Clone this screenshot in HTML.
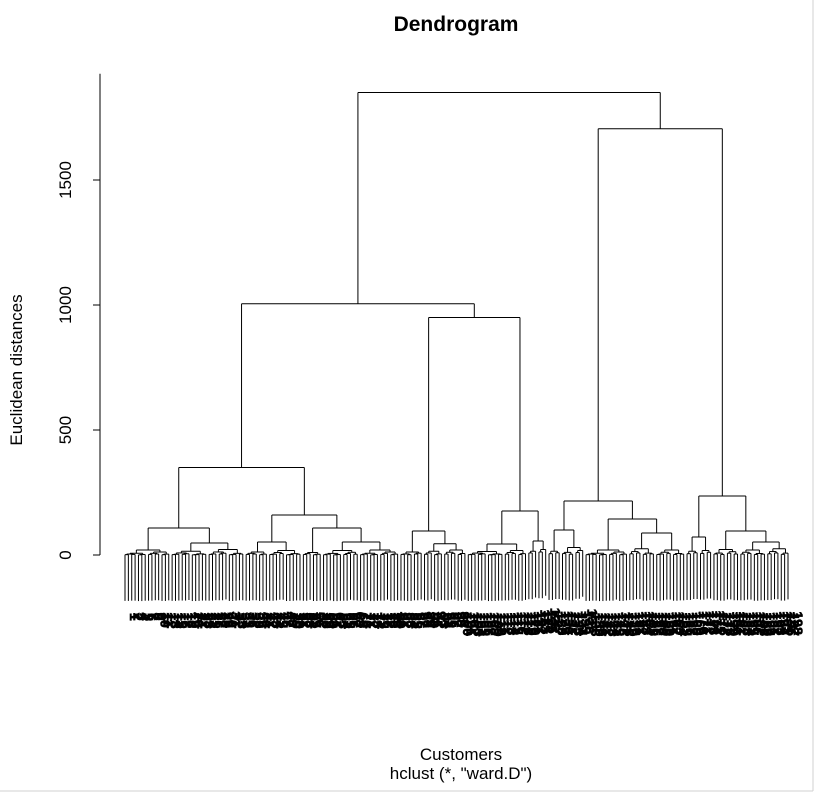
<!DOCTYPE html>
<html><head><meta charset="utf-8"><style>
html,body{margin:0;padding:0;background:#fff;}
svg{display:block;font-family:"Liberation Sans",sans-serif;}
</style></head><body>
<svg id="chart" width="817" height="794" viewBox="0 0 817 794">
<line x1="813" y1="0" x2="813" y2="791" stroke="#d0d0d0"/>
<line x1="0" y1="791" x2="813" y2="791" stroke="#d0d0d0"/>
<text x="456" y="31" text-anchor="middle" font-weight="bold" font-size="21">Dendrogram</text>
<text x="0" y="0" transform="translate(22,370) rotate(-90)" text-anchor="middle" font-size="17">Euclidean distances</text>
<text x="461" y="760" text-anchor="middle" font-size="17">Customers</text>
<text x="461" y="779" text-anchor="middle" font-size="17">hclust (*, "ward.D")</text>
<g id="axis"></g>
<g id="tree"></g>
<g id="labels"></g>
</svg>
<script>
// tree: internal node = [height, left, right]; leaf group = [height, leafCount]
const tree = [1850,
  [1005,
    [350,
      [108, [20, 14], [48, [15, 11], [22, 11]]],
      [160, [52, [12, 7], [18, 10]], [108, [10, 6], [52, [18, 11], [20, 12]]]]
    ],
    [950,
      [96, [12, 7], [45, [15, 6], [20, 7]]],
      [176, [44, [14, 11], [18, 7]], [56, [15, 3], [22, 3]]]
    ]
  ],
  [1705,
    [216,
      [100, [15, 4], [30, 7]],
      [144, [20, 13], [88, [25, 8], [20, 9]]]
    ],
    [236,
      [72, [15, 4], [18, 4]],
      [96, [22, 8], [52, [20, 8], [25, 7]]]
    ]
  ]
];
const yTicks = [0, 500, 1000, 1500];
const yTickLabels = ["0", "500", "1000", "1500"];
const leafLabels = [];
for (let i = 1; i <= 200; i++) leafLabels.push(String(i));

const X0 = 125, X1 = 788, Y0 = 555, PXPERUNIT = 0.25, HANG = 185;
function yScale(v){ return Y0 - v * PXPERUNIT; }
const NS = "http://www.w3.org/2000/svg";
const gT = document.getElementById('tree');
const gA = document.getElementById('axis');
const gL = document.getElementById('labels');

function expand(h, n, depth){
  if (n <= 1) return {leaf:true};
  const a = Math.ceil(n/2), b = n - a;
  const f1 = depth % 2 ? 0.55 : 0.35, f2 = depth % 2 ? 0.3 : 0.6;
  return {h:h, l:expand(h*f1, a, depth+1), r:expand(h*f2, b, depth+1)};
}
function build(node, depth){
  if (node.length === 2) return expand(node[0], node[1], depth);
  return {h:node[0], l:build(node[1], depth+1), r:build(node[2], depth+1)};
}
const root = build(tree, 0);
function countLeaves(n){ return n.leaf ? 1 : countLeaves(n.l) + countLeaves(n.r); }
const N = countLeaves(root);
const step = (X1 - X0) / (N - 1);
let leafIdx = 0;
function line(x1,y1,x2,y2,name){
  const l = document.createElementNS(NS,'line');
  l.setAttribute('x1',x1); l.setAttribute('y1',y1); l.setAttribute('x2',x2); l.setAttribute('y2',y2);
  l.setAttribute('stroke','#000'); l.setAttribute('stroke-width','1');
  
  
  return l;
}
function layout(n){
  if (n.leaf){ n.x = X0 + step * leafIdx; n.idx = leafIdx; leafIdx++; return; }
  layout(n.l); layout(n.r);
  n.x = (n.l.x + n.r.x) / 2;
}
layout(root);
function draw(n, parentH){
  if (n.leaf){
    const y1 = yScale(parentH), y2 = yScale(parentH - HANG);
    gT.appendChild(line(n.x, y1, n.x, y2, 'leaf-branch'));
    const t = document.createElementNS(NS,'text');
    t.setAttribute('transform', 'translate(' + (n.x + 5) + ',' + (y2 + 12) + ') rotate(90)');
    t.setAttribute('font-size','14');
    t.setAttribute('font-weight','bold');
    t.setAttribute('stroke','#000');
    t.setAttribute('stroke-width','0.6');
    
    
    t.textContent = leafLabels[n.idx] || '';
    gL.appendChild(t);
    return;
  }
  const y = yScale(n.h);
  gT.appendChild(line(n.l.x, y, n.r.x, y, 'merge-bar'));
  if (parentH !== null) gT.appendChild(line(n.x, yScale(parentH), n.x, y, 'branch'));
  draw(n.l, n.h); draw(n.r, n.h);
}
draw(root, null);

gA.appendChild(line(100, yScale(yTicks[0]), 100, yScale(1925), 'y-axis-line'));
yTicks.forEach((v,i)=>{
  const y = yScale(v);
  gA.appendChild(line(93, y, 100, y, 'y-tick'));
  const t = document.createElementNS(NS,'text');
  t.setAttribute('transform','translate(71,' + y + ') rotate(-90)');
  t.setAttribute('text-anchor','middle');
  t.setAttribute('font-size','17');
  
  
  t.textContent = yTickLabels[i];
  gA.appendChild(t);
});
</script>
</body></html>
